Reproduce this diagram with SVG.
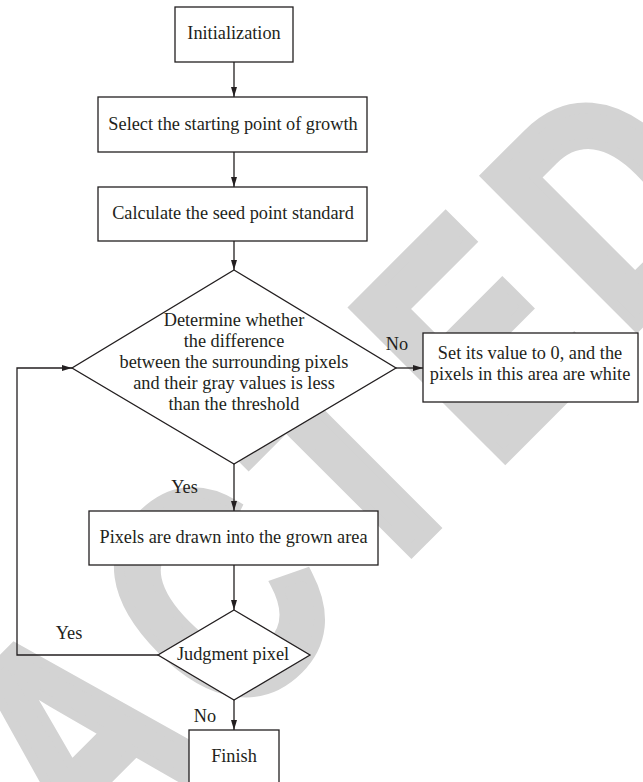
<svg xmlns="http://www.w3.org/2000/svg" width="643" height="782" viewBox="0 0 643 782">
<style>
.wm{font-family:"Liberation Sans",Arial,sans-serif;font-weight:bold;font-size:307px;fill:#d3d3d3;stroke:#d3d3d3;stroke-width:12;stroke-linejoin:miter;letter-spacing:33.7px}
.box{fill:#fff;stroke:#231f20;stroke-width:1.3}
.ln{fill:none;stroke:#231f20;stroke-width:1.3}
.t{font-family:"Liberation Serif","Times New Roman",serif;font-size:18.3px;fill:#231f20;text-anchor:middle}
</style>
<defs>
<marker id="ah" viewBox="0 0 10 6" refX="10" refY="3" markerWidth="10" markerHeight="6" markerUnits="userSpaceOnUse" orient="auto">
<path d="M0,0 L10,3 L0,6 Z" fill="#231f20"/>
</marker>
</defs>
<rect width="643" height="782" fill="#fff"/>
<text class="wm" transform="translate(-446,1408) rotate(-45) scale(0.78,1)" x="0" y="0">RETRACTED</text>
<g id="connectors">
<line class="ln" x1="234" y1="62" x2="234" y2="97" marker-end="url(#ah)"/>
<line class="ln" x1="234" y1="152" x2="234" y2="187" marker-end="url(#ah)"/>
<line class="ln" x1="234" y1="241" x2="234" y2="270" marker-end="url(#ah)"/>
<line class="ln" x1="396" y1="368" x2="423" y2="368" marker-end="url(#ah)"/>
<line class="ln" x1="234" y1="464" x2="234" y2="511" marker-end="url(#ah)"/>
<line class="ln" x1="234" y1="565" x2="234" y2="610" marker-end="url(#ah)"/>
<line class="ln" x1="234" y1="700" x2="234" y2="730" marker-end="url(#ah)"/>
<polyline class="ln" points="158,655 17,655 17,368 72,368" marker-end="url(#ah)"/>
<text class="t" x="397" y="350">No</text>
<text class="t" x="184.5" y="493">Yes</text>
<text class="t" x="69" y="639">Yes</text>
<text class="t" x="205" y="722">No</text>
</g>
<g id="init">
<rect class="box" x="175" y="7" width="118" height="55"/>
<text class="t" x="234" y="39">Initialization</text>
</g>
<g id="select">
<rect class="box" x="98" y="97" width="269" height="55"/>
<text class="t" x="233" y="130">Select the starting point of growth</text>
</g>
<g id="calc">
<rect class="box" x="98" y="187" width="269" height="54"/>
<text class="t" x="233" y="219">Calculate the seed point standard</text>
</g>
<g id="decide">
<polygon class="box" points="234,270 396,368 234,464 72,368"/>
<text class="t" x="234" y="326">Determine whether</text>
<text class="t" x="234" y="347">the difference</text>
<text class="t" x="234" y="368">between the surrounding pixels</text>
<text class="t" x="234" y="389">and their gray values is less</text>
<text class="t" x="234" y="410">than the threshold</text>
</g>
<g id="white">
<rect class="box" x="423" y="333" width="215" height="69"/>
<text class="t" x="530" y="359">Set its value to 0, and the</text>
<text class="t" x="530" y="380">pixels in this area are white</text>
</g>
<g id="grow">
<rect class="box" x="89" y="511" width="289" height="54"/>
<text class="t" x="233.5" y="543">Pixels are drawn into the grown area</text>
</g>
<g id="judge">
<polygon class="box" points="234,610 310,655 234,700 158,655"/>
<text class="t" x="233" y="660">Judgment pixel</text>
</g>
<g id="finish">
<rect class="box" x="189" y="730" width="90" height="60"/>
<text class="t" x="234" y="762">Finish</text>
</g>
</svg>
